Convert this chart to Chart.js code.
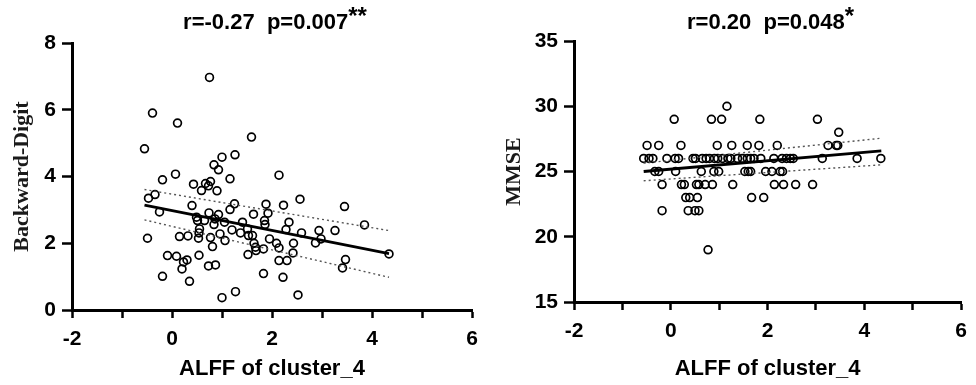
<!DOCTYPE html>
<html>
<head>
<meta charset="utf-8">
<script src="https://cdn.jsdelivr.net/npm/chart.js@4.4.1/dist/chart.umd.min.js"></script>
<style>
  html, body { margin: 0; padding: 0; background: #fff; }
  .wrap { display: flex; width: 976px; height: 385px; }
  canvas { display: block; }
</style>
</head>
<body>
<div class="wrap">
  <canvas id="left-chart" width="488" height="385"></canvas>
  <canvas id="right-chart" width="488" height="385"></canvas>
</div>
<script>
// left panel: digit span vs ALFF
const digitX = [-0.55, -0.39, 0.11, 0.75, 1.59, 1.00, 1.26, 0.84, 0.93, 2.14, 0.07, -0.19, 1.16, 0.43, 0.67, 0.77, 0.73, 0.59, 0.90, -0.34,
  -0.47, 0.40, 1.25, 1.16, 1.88, 2.23, 2.56, 3.45, -0.25, 0.74, 0.93, 1.63, 1.92, 0.49, 0.51, 0.65, 0.86, 1.05, 1.41, 1.85,
  2.34, 3.85, 0.84, 1.86, 0.55, 1.20, 1.51, 2.28, 2.59, 2.94, 3.26, 1.37, 0.54, 0.96, 1.53, 1.61, -0.49, 0.15, 0.32, 0.53,
  0.77, 1.06, 1.95, 1.64, 2.09, 2.43, 2.98, 2.87, 0.81, 1.67, 1.83, 2.14, 1.68, -0.09, 0.09, 0.54, 1.52, 2.42, 4.34, 0.30,
  0.23, 2.14, 2.30, 3.47, 0.20, 0.73, 0.87, 3.41, -0.19, 0.35, 1.83, 2.22, 1.27, 1.00, 2.52];
const digitY = [4.83, 5.90, 5.60, 6.97, 5.18, 4.58, 4.65, 4.35, 4.20, 4.04, 4.07, 3.90, 3.93, 3.77, 3.79, 3.85, 3.72, 3.58, 3.57, 3.46,
  3.35, 3.13, 3.18, 3.01, 3.17, 3.14, 3.32, 3.10, 2.94, 2.91, 2.86, 2.87, 2.90, 2.78, 2.68, 2.68, 2.73, 2.63, 2.63, 2.68,
  2.63, 2.55, 2.56, 2.56, 2.43, 2.40, 2.43, 2.41, 2.31, 2.38, 2.38, 2.31, 2.31, 2.28, 2.23, 2.23, 2.15, 2.20, 2.22, 2.15,
  2.17, 2.08, 2.13, 2.00, 2.00, 2.00, 2.13, 2.01, 1.90, 1.88, 1.83, 1.86, 1.78, 1.63, 1.61, 1.64, 1.66, 1.71, 1.68, 1.50,
  1.44, 1.48, 1.48, 1.51, 1.23, 1.32, 1.35, 1.26, 1.01, 0.86, 1.09, 0.98, 0.55, 0.37, 0.45];
const digitFitX = [-0.55, 4.34];
const digitFitY = [3.14, 1.69];
const digitUpperY = [3.61, 2.38];
const digitLowerY = [2.70, 0.98];

// right panel: MMSE vs ALFF
const mmseX = [1.16,
  0.07, 0.84, 1.05, 1.84, 3.03,
  3.47,
  -0.49, -0.25, 0.21, 0.96, 1.26, 1.58, 1.82, 2.20, 3.25, 3.42, 3.45,
  -0.56, -0.45, -0.37, -0.08, 0.09, 0.16, 0.46, 0.51, 0.65, 0.73, 0.80, 0.90, 0.97, 1.07, 1.18, 1.24, 1.38, 1.48, 1.58, 1.65,
  1.72, 1.86, 2.13, 2.30, 2.39, 2.47, 2.53, 3.13, 3.85, 4.34,
  -0.33, -0.25, 0.10, 0.63, 0.89, 0.99, 1.53, 1.60, 1.65, 1.96, 2.09, 2.26, 2.31,
  -0.18, 0.22, 0.28, 0.53, 0.58, 0.71, 0.86, 1.28, 2.14, 2.33, 2.58, 2.93,
  0.31, 0.39, 0.55, 1.67, 1.92,
  -0.18, 0.36, 0.50, 0.58,
  0.77];
const mmseY = [30,
  29, 29, 29, 29, 29,
  28,
  27, 27, 27, 27, 27, 27, 27, 27, 27, 27, 27,
  26, 26, 26, 26, 26, 26, 26, 26, 26, 26, 26, 26, 26, 26, 26, 26, 26, 26, 26, 26,
  26, 26, 26, 26, 26, 26, 26, 26, 26, 26,
  25, 25, 25, 25, 25, 25, 25, 25, 25, 25, 25, 25, 25,
  24, 24, 24, 24, 24, 24, 24, 24, 24, 24, 24, 24,
  23, 23, 23, 23, 23,
  22, 22, 22, 22,
  19];
const mmseFitX = [-0.56, 4.35];
const mmseFitY = [25.0, 26.58];
const mmseUpperY = [25.64, 27.55];
const mmseLowerY = [24.29, 25.51];

const xTicks = [-2, -1, 0, 1, 2, 3, 4, 5, 6];

const SANS = '"Liberation Sans", Arial, sans-serif';
const SERIF = '"Liberation Serif", "Times New Roman", serif';

const toPoints = (xs, ys) => xs.map((x, i) => ({ x: x, y: ys[i] }));

function headerPlugin(text, sup, dx) {
  return {
    id: "header",
    afterDraw(chart) {
      const ctx = chart.ctx;
      const area = chart.chartArea;
      ctx.save();
      ctx.fillStyle = "#000";
      ctx.textBaseline = "middle";
      ctx.font = "bold 22px " + SANS;
      const w1 = ctx.measureText(text).width;
      ctx.font = "bold 24px " + SANS;
      const w2 = ctx.measureText(sup).width;
      const x0 = (area.left + area.right) / 2 + dx - (w1 + w2) / 2;
      ctx.font = "bold 22px " + SANS;
      ctx.textAlign = "left";
      ctx.fillText(text, x0, 23);
      ctx.font = "bold 24px " + SANS;
      ctx.fillText(sup, x0 + w1, 17);
      ctx.restore();
    },
  };
}

function buildPlot(canvas, cfg) {
  const lineSet = (ys, dashed) => ({
    data: toPoints(cfg.fitX, ys),
    showLine: true,
    pointRadius: 0,
    borderColor: dashed ? "#555" : "#000",
    borderWidth: dashed ? 1.4 : 2.8,
    borderDash: dashed ? [2, 3] : [],
  });

  return new Chart(canvas, {
    type: "scatter",
    data: {
      datasets: [
        lineSet(cfg.fitY, false),
        lineSet(cfg.upperY, true),
        lineSet(cfg.lowerY, true),
        {
          data: toPoints(cfg.xs, cfg.ys),
          pointRadius: 3.9,
          pointBorderWidth: 1.7,
          pointBorderColor: "#000",
          pointBackgroundColor: "rgba(0,0,0,0)",
        },
      ],
    },
    options: {
      responsive: false,
      animation: false,
      devicePixelRatio: 1,
      layout: { padding: { left: 0, right: cfg.padRight, top: cfg.padTop, bottom: 0 } },
      plugins: { legend: { display: false }, tooltip: { enabled: false }, title: { display: false } },
      scales: {
        x: {
          type: "linear",
          min: -2,
          max: 6,
          afterBuildTicks: (s) => { s.ticks = xTicks.map((v) => ({ value: v })); },
          afterFit: (s) => { s.height = cfg.xHeight; },
          ticks: {
            autoSkip: false,
            maxRotation: 0,
            padding: 9,
            color: "#000",
            font: { family: SANS, size: 21, weight: "bold" },
            callback: (v) => (v % 2 === 0 ? String(v) : ""),
          },
          grid: { drawOnChartArea: false, tickLength: 8, tickWidth: 2.5, tickColor: "#000" },
          border: { color: "#000", width: 3 },
          title: {
            display: true,
            text: "ALFF of cluster_4",
            color: "#000",
            font: { family: SANS, size: 22, weight: "bold" },
            padding: { top: 4, bottom: 3 },
          },
        },
        y: {
          type: "linear",
          min: cfg.yMin,
          max: cfg.yMax,
          afterFit: (s) => { s.width = cfg.yWidth; },
          ticks: {
            stepSize: cfg.yStep,
            padding: 6,
            color: "#000",
            font: { family: SANS, size: 21, weight: "bold" },
          },
          grid: { drawOnChartArea: false, tickLength: 10, tickWidth: 2.5, tickColor: "#000" },
          border: { color: "#000", width: 3 },
          title: {
            display: true,
            text: cfg.yTitle,
            color: "#1a1a1a",
            font: { family: SERIF, size: 22, weight: "bold" },
            padding: { top: cfg.yTitlePad, bottom: 0 },
          },
        },
      },
    },
    plugins: [headerPlugin(cfg.head, cfg.sup, 3)],
  });
}

buildPlot(document.getElementById("left-chart"), {
  xs: digitX, ys: digitY,
  fitX: digitFitX, fitY: digitFitY, upperY: digitUpperY, lowerY: digitLowerY,
  yMin: 0, yMax: 8, yStep: 2, yTitle: "Backward-Digit", yTitlePad: 9,
  head: "r=-0.27  p=0.007", sup: "**",
  yWidth: 72, xHeight: 75, padTop: 43, padRight: 16,
});

buildPlot(document.getElementById("right-chart"), {
  xs: mmseX, ys: mmseY,
  fitX: mmseFitX, fitY: mmseFitY, upperY: mmseUpperY, lowerY: mmseLowerY,
  yMin: 15, yMax: 35, yStep: 5, yTitle: "MMSE", yTitlePad: 13,
  head: "r=0.20  p=0.048", sup: "*",
  yWidth: 86, xHeight: 83, padTop: 41, padRight: 9,
});
</script>
</body>
</html>
